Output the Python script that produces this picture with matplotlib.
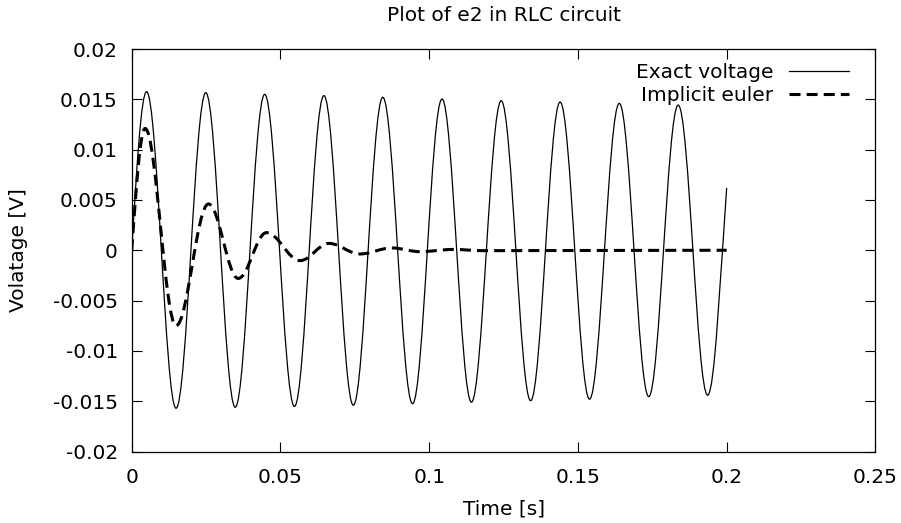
import matplotlib
matplotlib.use("Agg")
import matplotlib.pyplot as plt
from matplotlib.path import Path
from matplotlib.patches import PathPatch
from matplotlib.lines import Line2D

# turning points (time in s, voltage in V)
exact_t = [0.0, 0.0050, 0.0149, 0.0249, 0.0348, 0.0447, 0.0547, 0.0646, 0.0745,
           0.0844, 0.0944, 0.1043, 0.1142, 0.1242, 0.1341, 0.1440, 0.1539,
           0.1639, 0.1738, 0.1837, 0.1936, 0.2000]
exact_v = [0.0, 0.01576, -0.0157, 0.01566, -0.0156, 0.01550, -0.01552, 0.01537,
           -0.0154, 0.0152, -0.01525, 0.01503, -0.0151, 0.01486, -0.01495,
           0.01473, -0.0148, 0.0146, -0.01455, 0.01443, -0.0144, 0.0062]

euler_t = [0.0, 0.0045, 0.0149, 0.0258, 0.0358, 0.0453, 0.0566, 0.0663, 0.0767,
           0.0874, 0.0969, 0.1080, 0.1180, 0.2000]
euler_v = [0.0, 0.0121, -0.0075, 0.0046, -0.0028, 0.00175, -0.00103, 0.00068,
           -0.00037, 0.00023, -0.00014, 0.00008, -0.00004, 0.0]

x_ticks = [0, 0.05, 0.1, 0.15, 0.2, 0.25]
x_labels = ["0", "0.05", "0.1", "0.15", "0.2", "0.25"]
y_ticks = [-0.02, -0.015, -0.01, -0.005, 0, 0.005, 0.01, 0.015, 0.02]
y_labels = ["-0.02", "-0.015", "-0.01", "-0.005", "0", "0.005", "0.01", "0.015", "0.02"]

FS = 14.5
K = 0.3634  # bezier handle for half a sine wave
DASH = (0, (3.6, 2.0))


def wave_path(ts, vs, end_on_peak=True):
    # smooth curve through the turning points, flat tangents at each peak
    verts = [(ts[0], vs[0])]
    codes = [Path.MOVETO]
    n = len(ts)
    for i in range(n - 1):
        t0, v0, t1, v1 = ts[i], vs[i], ts[i + 1], vs[i + 1]
        dt, dv = t1 - t0, v1 - v0
        if i == 0:
            c1 = (t0 + 0.33 * dt, v0 + 0.51 * dv)
        else:
            c1 = (t0 + K * dt, v0)
        if i == n - 2 and not end_on_peak:
            c2 = (t1 - 0.33 * dt, v1 - 0.42 * dv)
        else:
            c2 = (t1 - K * dt, v1)
        verts += [c1, c2, (t1, v1)]
        codes += [Path.CURVE4] * 3
    return Path(verts, codes)


fig = plt.figure(figsize=(9.01, 5.23), dpi=100)
ax = fig.add_axes([0.1462, 0.1367, 0.8254, 0.7696])

ax.add_patch(PathPatch(wave_path(exact_t, exact_v, end_on_peak=False),
                       fill=False, edgecolor="black", lw=0.9))
ax.add_patch(PathPatch(wave_path(euler_t, euler_v),
                       fill=False, edgecolor="black", lw=2.2,
                       linestyle=DASH, capstyle="butt"))

ax.set_xlim(0, 0.25)
ax.set_ylim(-0.02, 0.02)
ax.set_xticks(x_ticks)
ax.set_xticklabels(x_labels)
ax.set_yticks(y_ticks)
ax.set_yticklabels(y_labels)
ax.tick_params(direction="in", length=7, width=0.8, top=True, right=True,
               labelsize=FS)
ax.tick_params(axis="y", pad=10)
ax.tick_params(axis="x", pad=12)
for s in ax.spines.values():
    s.set_linewidth(0.9)

ax.set_title("Plot of e2 in RLC circuit", fontsize=FS, pad=20)
ax.set_xlabel("Time [s]", fontsize=FS, labelpad=9)
ax.set_ylabel("Volatage [V]", fontsize=FS, labelpad=18)

handles = [
    Line2D([], [], color="black", lw=0.9, label="Exact voltage"),
    Line2D([], [], color="black", lw=2.2, linestyle=DASH,
           dash_capstyle="butt", label="Implicit euler"),
]
ax.legend(handles=handles, loc="upper right", bbox_to_anchor=(0.9645, 0.966),
          frameon=False, markerfirst=False, fontsize=FS, handlelength=3.0,
          handletextpad=0.75, labelspacing=0.2, borderpad=0, borderaxespad=0)

fig.savefig("out.png", dpi=100)
